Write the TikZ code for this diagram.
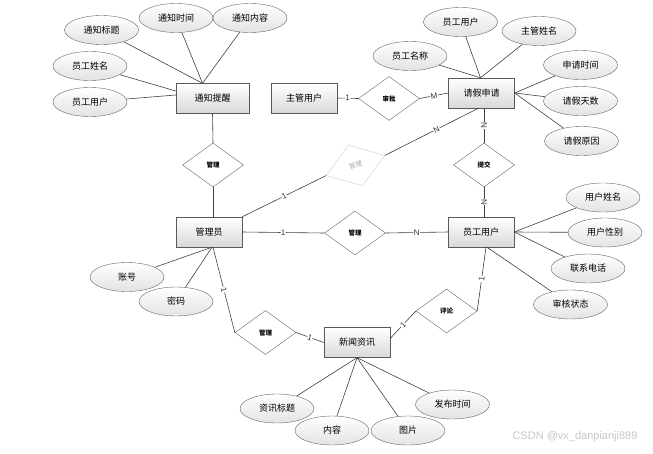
\documentclass[tikz,border=0pt]{standalone}
\usepackage{fontspec}
\newfontfamily\cjk{Noto Sans CJK SC}
\newfontfamily\latinsans{Liberation Sans}
\usetikzlibrary{positioning, calc}
\usetikzlibrary{shapes.geometric}

\tikzset{
  entity/.style = {rectangle, draw=black!65, top color=white, bottom color=gray!30, minimum width=66pt, minimum height=30pt, inner sep=0pt, font=\cjk\fontsize{9}{10}\selectfont},
  attr/.style = {ellipse, draw=black!60, top color=white, bottom color=gray!22, minimum width=74pt, minimum height=29pt, inner sep=0pt, font=\cjk\fontsize{9}{10}\selectfont},
  rel/.style = {diamond, draw=black!60, fill=white, minimum width=61pt, minimum height=44pt, inner sep=0pt, font=\cjk\bfseries\fontsize{6.5}{7}\selectfont},
  card/.style = {sloped, fill=white, inner sep=0.5pt, text=black!80, font=\latinsans\fontsize{8}{9}\selectfont},
  link/.style = {draw=black!75, line width=0.6pt},
  wmark/.style = {text=gray!45, font=\latinsans\fontsize{11}{12}\selectfont}
}

\begin{document}
\begin{tikzpicture}[x=1pt, y=-1pt]
                \useasboundingbox (0,0) rectangle (653,453);
                % entities and relations
                \node[entity, minimum width=73pt] (tzt) at (212.5,98.5) {通知提醒};
                \node[entity] (zgu) at (304,98) {主管用户};
                \node[rel] (spi) at (389,98.5) {审批};
                \node[entity] (qjs) at (481.5,93) {请假申请};
                \node[rel] (glt) at (213,165) {管理};
                \node[rel, rotate=19, draw=gray!40, minimum width=62pt, minimum height=43pt, text=gray!70, font=\cjk\fontsize{6.5}{7}\selectfont] (glq) at (355.5,165.5) {管理};
                \node[rel] (tjo) at (484,165) {提交};
                \node[entity] (gly) at (209,232) {管理员};
                \node[rel] (glm) at (355,233) {管理};
                \node[entity] (ygu) at (481,232) {员工用户};
                \node[rel] (glb) at (265.5,332.5) {管理};
                \node[rel] (plu) at (446.5,311) {评论};
                \node[entity] (xwz) at (357,342.5) {新闻资讯};
                % attributes
                \node[attr] (tzbt) at (101.5,30) {通知标题};
                \node[attr] (tzsj) at (176,18) {通知时间};
                \node[attr] (tznr) at (250,18) {通知内容};
                \node[attr] (ygxm) at (90,66) {员工姓名};
                \node[attr] (ygyh) at (90,102) {员工用户};
                \node[attr] (qjyg) at (460.5,22) {员工用户};
                \node[attr] (zgxm) at (539,31) {主管姓名};
                \node[attr] (ygmc) at (410,56) {员工名称};
                \node[attr] (sqsj) at (580.5,65) {申请时间};
                \node[attr] (qjts) at (580.5,101) {请假天数};
                \node[attr] (qjyy) at (581.5,141) {请假原因};
                \node[attr] (yhxm) at (603,197.5) {用户姓名};
                \node[attr] (yhxb) at (605,232.5) {用户性别};
                \node[attr] (lxdh) at (588,268.5) {联系电话};
                \node[attr] (shzt) at (570.5,304.5) {审核状态};
                \node[attr] (zhao) at (127,277) {账号};
                \node[attr] (mima) at (176,301.5) {密码};
                \node[attr] (zxbt) at (277,408.5) {资讯标题};
                \node[attr] (nrng) at (332,430.5) {内容};
                \node[attr] (tupi) at (408,430.5) {图片};
                \node[attr] (fbsj) at (452.5,404.5) {发布时间};
                \node[wmark] (mark) at (575,437) {CSDN @vx\_danpianji889};
                % relation links
                \draw[link] (tzt.south) -- (glt.north);
                \draw[link] (glt.south) -- (glt.south |- gly.north);
                \draw[link] (zgu.east) -- node[card] {1} (spi.west);
                \draw[link] (spi.east) -- node[card] {M} (qjs.west);
                \draw[link] (tjo.north |- qjs.south) -- node[card] {N} (tjo.north);
                \draw[link] (tjo.south) -- node[card] {N} (tjo.south |- ygu.north);
                \draw[link] (gly.north east) -- node[card] {1} (glq.west);
                \draw[link] (glq.east) -- node[card, pos=0.55] {N} ([xshift=-3pt]qjs.south);
                \draw[link] (gly.east) -- node[card] {1} (glm.west);
                \draw[link] (glm.east) -- node[card] {N} (ygu.west);
                \draw[link] ([xshift=4pt]gly.south) -- node[card] {1} (glb.west);
                \draw[link] (glb.east) -- node[card] {1} (xwz.west);
                \draw[link] ([yshift=4pt]xwz.east) -- node[card] {1} (plu.west);
                \draw[link] (plu.east) -- node[card] {1} ([xshift=5pt]ygu.south);
                % attribute links
                \foreach \a in {tzbt,tzsj,tznr}
                  \draw[link] (\a) -- ([xshift=-10pt]tzt.north);
                \draw[link] (ygxm) -- ([yshift=7.5pt]tzt.west);
                \draw[link] (ygyh) -- ([yshift=3.5pt]tzt.west);
                \foreach \a in {qjyg,zgxm,ygmc}
                  \draw[link] (\a) -- ([xshift=-1pt]qjs.north);
                \foreach \a in {sqsj,qjts,qjyy}
                  \draw[link] (\a) -- (qjs.east);
                \foreach \a in {yhxm,yhxb,lxdh}
                  \draw[link] (\a) -- (ygu.east);
                \draw[link] (shzt) -- ([xshift=6pt]ygu.south);
                \foreach \a in {zhao,mima}
                  \draw[link] (\a) -- ([xshift=3pt]gly.south);
                \foreach \a in {zxbt,nrng,tupi,fbsj}
                  \draw[link] (\a) -- (xwz.south);
\end{tikzpicture}
\end{document}
